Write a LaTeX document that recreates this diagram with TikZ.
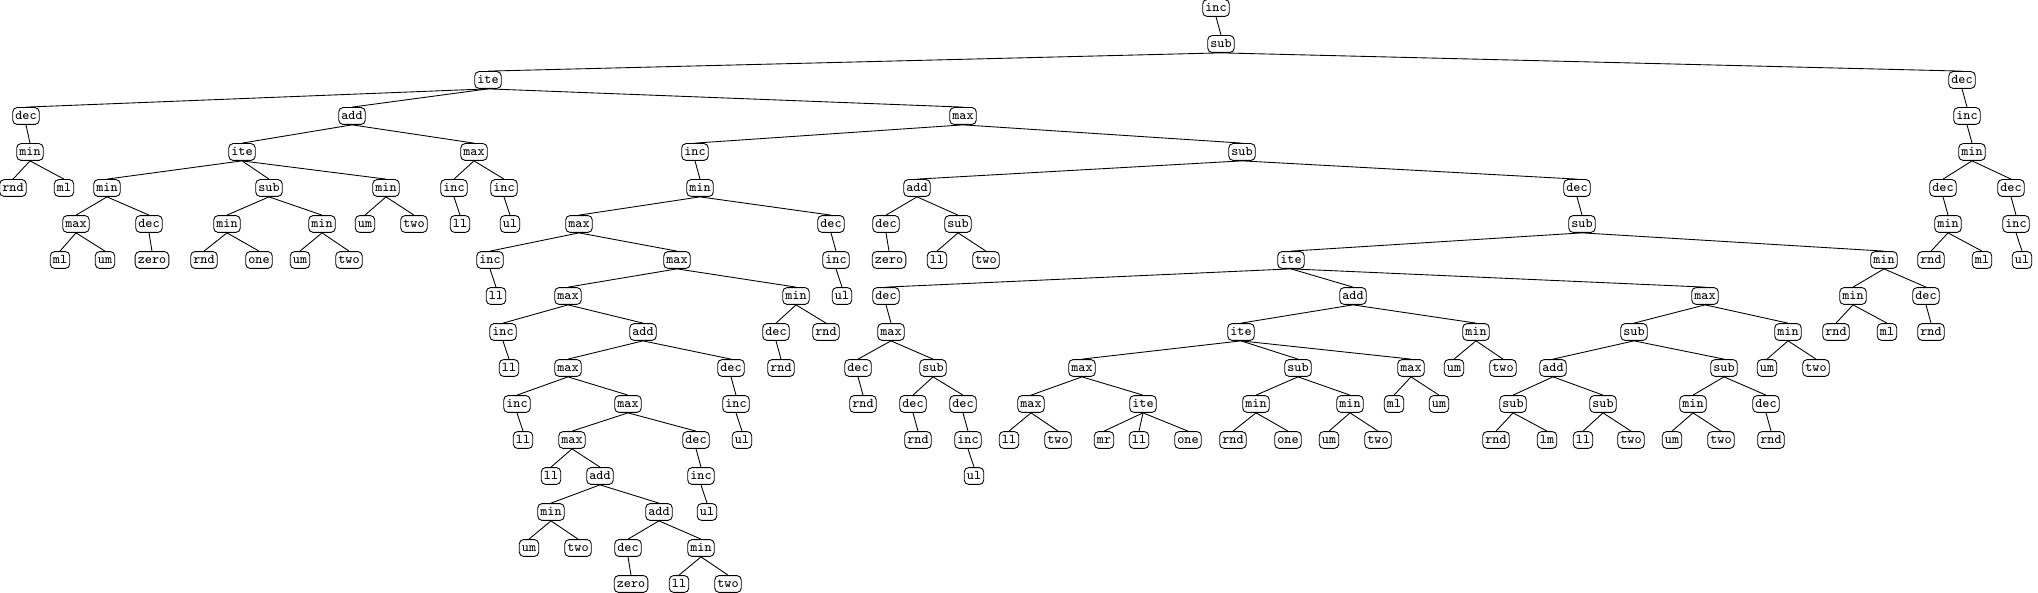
\documentclass[tikz,border=0pt]{standalone}
\usepackage{tikz}
\usetikzlibrary{positioning}

\begin{document}
\begin{tikzpicture}[
  x=0.2mm, y=-0.2mm, line width=0.5pt,
  term/.style={draw, rounded corners=2.5pt, inner xsep=1.5pt, inner ysep=0pt,
    minimum height=9.6pt, text height=5.2pt, text depth=1pt,
    font=\fontsize{7.6}{8}\selectfont\ttfamily},
  ]
  \useasboundingbox (0,0) rectangle (2038,593);

  % root and left part
  \node[term] (n_1)   at (1216,  8) {inc};
  \node[term] (n_2)   at (1221, 44) {sub};
  \node[term] (n_3)   at ( 488, 80) {ite};
  \node[term] (n_4)   at (  26,116) {dec};
  \node[term] (n_5)   at (  30,152) {min};
  \node[term] (n_6)   at (  13,188) {rnd};
  \node[term] (n_7)   at (  64,188) {ml};
  \node[term] (n_8)   at ( 352,116) {add};
  \node[term] (n_9)   at ( 242,152) {ite};
  \node[term] (n_10)  at ( 107,188) {min};
  \node[term] (n_11)  at (  76,224) {max};
  \node[term] (n_12)  at (  60,260) {ml};
  \node[term] (n_13)  at ( 105,260) {um};
  \node[term] (n_14)  at ( 149,224) {dec};
  \node[term] (n_15)  at ( 152,260) {zero};
  \node[term] (n_16)  at ( 269,188) {sub};
  \node[term] (n_17)  at ( 227,224) {min};
  \node[term] (n_18)  at ( 204,260) {rnd};
  \node[term] (n_19)  at ( 259,260) {one};
  \node[term] (n_20)  at ( 322,224) {min};
  \node[term] (n_21)  at ( 300,260) {um};
  \node[term] (n_22)  at ( 349,260) {two};
  \node[term] (n_23)  at ( 386,188) {min};
  \node[term] (n_24)  at ( 365,224) {um};
  \node[term] (n_25)  at ( 414,224) {two};
  \node[term] (n_26)  at ( 474,152) {max};
  \node[term] (n_27)  at ( 454,188) {inc};
  \node[term] (n_28)  at ( 460,224) {ll};
  \node[term] (n_29)  at ( 504,188) {inc};
  \node[term] (n_30)  at ( 510,224) {ul};

  % middle part
  \node[term] (n_31)  at ( 963,116) {max};
  \node[term] (n_32)  at ( 695,152) {inc};
  \node[term] (n_33)  at ( 700,188) {min};
  \node[term] (n_34)  at ( 579,224) {max};
  \node[term] (n_35)  at ( 490,260) {inc};
  \node[term] (n_36)  at ( 496,296) {ll};
  \node[term] (n_37)  at ( 677,260) {max};
  \node[term] (n_38)  at ( 568,296) {max};
  \node[term] (n_39)  at ( 503,332) {inc};
  \node[term] (n_40)  at ( 509,368) {ll};
  \node[term] (n_41)  at ( 643,332) {add};
  \node[term] (n_42)  at ( 568,368) {max};
  \node[term] (n_43)  at ( 517,404) {inc};
  \node[term] (n_44)  at ( 523,440) {ll};
  \node[term] (n_45)  at ( 628,404) {max};
  \node[term] (n_46)  at ( 572,440) {max};
  \node[term] (n_47)  at ( 551,476) {ll};
  \node[term] (n_48)  at ( 600,476) {add};
  \node[term] (n_49)  at ( 551,512) {min};
  \node[term] (n_50)  at ( 529,548) {um};
  \node[term] (n_51)  at ( 578,548) {two};
  \node[term] (n_52)  at ( 659,512) {add};
  \node[term] (n_53)  at ( 628,548) {dec};
  \node[term] (n_54)  at ( 631,584) {zero};
  \node[term] (n_55)  at ( 701,548) {min};
  \node[term] (n_56)  at ( 679,584) {ll};
  \node[term] (n_57)  at ( 728,584) {two};
  \node[term] (n_58)  at ( 696,440) {dec};
  \node[term] (n_59)  at ( 701,476) {inc};
  \node[term] (n_60)  at ( 707,512) {ul};
  \node[term] (n_61)  at ( 731,368) {dec};
  \node[term] (n_62)  at ( 736,404) {inc};
  \node[term] (n_63)  at ( 742,440) {ul};
  \node[term] (n_64)  at ( 796,296) {min};
  \node[term] (n_65)  at ( 776,332) {dec};
  \node[term] (n_66)  at ( 781,368) {rnd};
  \node[term] (n_67)  at ( 826,332) {rnd};
  \node[term] (n_68)  at ( 831,224) {dec};
  \node[term] (n_69)  at ( 836,260) {inc};
  \node[term] (n_70)  at ( 842,296) {ul};
  \node[term] (n_71)  at (1242,152) {sub};
  \node[term] (n_72)  at ( 917,188) {add};
  \node[term] (n_73)  at ( 886,224) {dec};
  \node[term] (n_74)  at ( 889,260) {zero};
  \node[term] (n_75)  at ( 958,224) {sub};
  \node[term] (n_76)  at ( 937,260) {ll};
  \node[term] (n_77)  at ( 986,260) {two};

  % right part
  \node[term] (n_78)  at (1577,188) {dec};
  \node[term] (n_79)  at (1582,224) {sub};
  \node[term] (n_80)  at (1291,260) {ite};
  \node[term] (n_81)  at ( 886,296) {dec};
  \node[term] (n_82)  at ( 891,332) {max};
  \node[term] (n_83)  at ( 858,368) {dec};
  \node[term] (n_84)  at ( 863,404) {rnd};
  \node[term] (n_85)  at ( 933,368) {sub};
  \node[term] (n_86)  at ( 913,404) {dec};
  \node[term] (n_87)  at ( 918,440) {rnd};
  \node[term] (n_88)  at ( 963,404) {dec};
  \node[term] (n_89)  at ( 968,440) {inc};
  \node[term] (n_90)  at ( 974,476) {ul};
  \node[term] (n_91)  at (1353,296) {add};
  \node[term] (n_92)  at (1241,332) {ite};
  \node[term] (n_93)  at (1082,368) {max};
  \node[term] (n_94)  at (1031,404) {max};
  \node[term] (n_95)  at (1009,440) {ll};
  \node[term] (n_96)  at (1058,440) {two};
  \node[term] (n_97)  at (1143,404) {ite};
  \node[term] (n_98)  at (1104,440) {mr};
  \node[term] (n_99)  at (1139,440) {ll};
  \node[term] (n_100) at (1188,440) {one};
  \node[term] (n_101) at (1298,368) {sub};
  \node[term] (n_102) at (1256,404) {min};
  \node[term] (n_103) at (1233,440) {rnd};
  \node[term] (n_104) at (1288,440) {one};
  \node[term] (n_105) at (1350,404) {min};
  \node[term] (n_106) at (1329,440) {um};
  \node[term] (n_107) at (1378,440) {two};
  \node[term] (n_108) at (1411,368) {max};
  \node[term] (n_109) at (1394,404) {ml};
  \node[term] (n_110) at (1439,404) {um};
  \node[term] (n_111) at (1476,332) {min};
  \node[term] (n_112) at (1454,368) {um};
  \node[term] (n_113) at (1503,368) {two};
  \node[term] (n_114) at (1705,296) {max};
  \node[term] (n_115) at (1634,332) {sub};
  \node[term] (n_116) at (1553,368) {add};
  \node[term] (n_117) at (1513,404) {sub};
  \node[term] (n_118) at (1496,440) {rnd};
  \node[term] (n_119) at (1547,440) {lm};
  \node[term] (n_120) at (1603,404) {sub};
  \node[term] (n_121) at (1583,440) {ll};
  \node[term] (n_122) at (1631,440) {two};
  \node[term] (n_123) at (1724,368) {sub};
  \node[term] (n_124) at (1693,404) {min};
  \node[term] (n_125) at (1672,440) {um};
  \node[term] (n_126) at (1721,440) {two};
  \node[term] (n_127) at (1766,404) {dec};
  \node[term] (n_128) at (1771,440) {rnd};
  \node[term] (n_129) at (1788,332) {min};
  \node[term] (n_130) at (1767,368) {um};
  \node[term] (n_131) at (1816,368) {two};
  \node[term] (n_132) at (1884,260) {min};
  \node[term] (n_133) at (1853,296) {min};
  \node[term] (n_134) at (1836,332) {rnd};
  \node[term] (n_135) at (1887,332) {ml};
  \node[term] (n_136) at (1926,296) {dec};
  \node[term] (n_137) at (1931,332) {rnd};
  \node[term] (n_138) at (1962, 80) {dec};
  \node[term] (n_139) at (1967,116) {inc};
  \node[term] (n_140) at (1972,152) {min};
  \node[term] (n_141) at (1943,188) {dec};
  \node[term] (n_142) at (1948,224) {min};
  \node[term] (n_143) at (1931,260) {rnd};
  \node[term] (n_144) at (1982,260) {ml};
  \node[term] (n_145) at (2011,188) {dec};
  \node[term] (n_146) at (2016,224) {inc};
  \node[term] (n_147) at (2022,260) {ul};

  \path (n_1.south)   edge (n_2.north)
        (n_2.south)   edge (n_3.north) edge (n_138.north)
        (n_3.south)   edge (n_4.north) edge (n_8.north) edge (n_31.north)
        (n_4.south)   edge (n_5.north)
        (n_5.south)   edge (n_6.north) edge (n_7.north)
        (n_8.south)   edge (n_9.north) edge (n_26.north)
        (n_9.south)   edge (n_10.north) edge (n_16.north) edge (n_23.north)
        (n_10.south)  edge (n_11.north) edge (n_14.north)
        (n_11.south)  edge (n_12.north) edge (n_13.north)
        (n_14.south)  edge (n_15.north)
        (n_16.south)  edge (n_17.north) edge (n_20.north)
        (n_17.south)  edge (n_18.north) edge (n_19.north)
        (n_20.south)  edge (n_21.north) edge (n_22.north)
        (n_23.south)  edge (n_24.north) edge (n_25.north)
        (n_26.south)  edge (n_27.north) edge (n_29.north)
        (n_27.south)  edge (n_28.north)
        (n_29.south)  edge (n_30.north);

  \path (n_31.south)  edge (n_32.north) edge (n_71.north)
        (n_32.south)  edge (n_33.north)
        (n_33.south)  edge (n_34.north) edge (n_68.north)
        (n_34.south)  edge (n_35.north) edge (n_37.north)
        (n_35.south)  edge (n_36.north)
        (n_37.south)  edge (n_38.north) edge (n_64.north)
        (n_38.south)  edge (n_39.north) edge (n_41.north)
        (n_39.south)  edge (n_40.north)
        (n_41.south)  edge (n_42.north) edge (n_61.north)
        (n_42.south)  edge (n_43.north) edge (n_45.north)
        (n_43.south)  edge (n_44.north)
        (n_45.south)  edge (n_46.north) edge (n_58.north)
        (n_46.south)  edge (n_47.north) edge (n_48.north)
        (n_48.south)  edge (n_49.north) edge (n_52.north)
        (n_49.south)  edge (n_50.north) edge (n_51.north)
        (n_52.south)  edge (n_53.north) edge (n_55.north)
        (n_53.south)  edge (n_54.north)
        (n_55.south)  edge (n_56.north) edge (n_57.north)
        (n_58.south)  edge (n_59.north)
        (n_59.south)  edge (n_60.north)
        (n_61.south)  edge (n_62.north)
        (n_62.south)  edge (n_63.north)
        (n_64.south)  edge (n_65.north) edge (n_67.north)
        (n_65.south)  edge (n_66.north)
        (n_68.south)  edge (n_69.north)
        (n_69.south)  edge (n_70.north)
        (n_71.south)  edge (n_72.north) edge (n_78.north)
        (n_72.south)  edge (n_73.north) edge (n_75.north)
        (n_73.south)  edge (n_74.north)
        (n_75.south)  edge (n_76.north) edge (n_77.north);

  \path (n_78.south)  edge (n_79.north)
        (n_79.south)  edge (n_80.north) edge (n_132.north)
        (n_80.south)  edge (n_81.north) edge (n_91.north) edge (n_114.north)
        (n_81.south)  edge (n_82.north)
        (n_82.south)  edge (n_83.north) edge (n_85.north)
        (n_83.south)  edge (n_84.north)
        (n_85.south)  edge (n_86.north) edge (n_88.north)
        (n_86.south)  edge (n_87.north)
        (n_88.south)  edge (n_89.north)
        (n_89.south)  edge (n_90.north)
        (n_91.south)  edge (n_92.north) edge (n_111.north)
        (n_92.south)  edge (n_93.north) edge (n_101.north) edge (n_108.north)
        (n_93.south)  edge (n_94.north) edge (n_97.north)
        (n_94.south)  edge (n_95.north) edge (n_96.north)
        (n_97.south)  edge (n_98.north) edge (n_99.north) edge (n_100.north)
        (n_101.south) edge (n_102.north) edge (n_105.north)
        (n_102.south) edge (n_103.north) edge (n_104.north)
        (n_105.south) edge (n_106.north) edge (n_107.north)
        (n_108.south) edge (n_109.north) edge (n_110.north)
        (n_111.south) edge (n_112.north) edge (n_113.north)
        (n_114.south) edge (n_115.north) edge (n_129.north)
        (n_115.south) edge (n_116.north) edge (n_123.north)
        (n_116.south) edge (n_117.north) edge (n_120.north)
        (n_117.south) edge (n_118.north) edge (n_119.north)
        (n_120.south) edge (n_121.north) edge (n_122.north)
        (n_123.south) edge (n_124.north) edge (n_127.north)
        (n_124.south) edge (n_125.north) edge (n_126.north)
        (n_127.south) edge (n_128.north)
        (n_129.south) edge (n_130.north) edge (n_131.north)
        (n_132.south) edge (n_133.north) edge (n_136.north)
        (n_133.south) edge (n_134.north) edge (n_135.north)
        (n_136.south) edge (n_137.north);

  \path (n_138.south) edge (n_139.north)
        (n_139.south) edge (n_140.north)
        (n_140.south) edge (n_141.north) edge (n_145.north)
        (n_141.south) edge (n_142.north)
        (n_142.south) edge (n_143.north) edge (n_144.north)
        (n_145.south) edge (n_146.north)
        (n_146.south) edge (n_147.north);
\end{tikzpicture}
\end{document}
